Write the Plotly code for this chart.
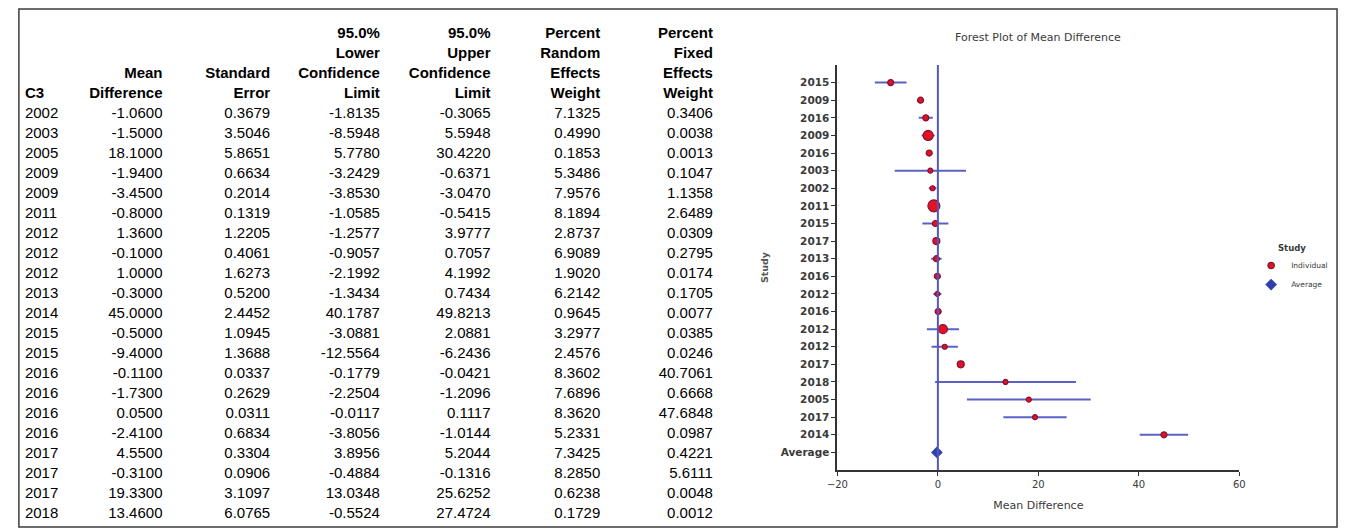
import plotly.graph_objects as go

## Data
study = ['2002', '2003', '2005', '2009', '2009', '2011', '2012', '2012', '2012', '2013', '2014',
         '2015', '2015', '2016', '2016', '2016', '2016', '2017', '2017', '2017', '2018']
mean_diff = [-1.06, -1.5, 18.1, -1.94, -3.45, -0.8, 1.36, -0.1, 1.0, -0.3, 45.0,
             -0.5, -9.4, -0.11, -1.73, 0.05, -2.41, 4.55, -0.31, 19.33, 13.46]
std_err = [0.3679, 3.5046, 5.8651, 0.6634, 0.2014, 0.1319, 1.2205, 0.4061, 1.6273, 0.5200, 2.4452,
           1.0945, 1.3688, 0.0337, 0.2629, 0.0311, 0.6834, 0.3304, 0.0906, 3.1097, 6.0765]
lower_cl = [-1.8135, -8.5948, 5.7780, -3.2429, -3.8530, -1.0585, -1.2577, -0.9057, -2.1992, -1.3434, 40.1787,
            -3.0881, -12.5564, -0.1779, -2.2504, -0.0117, -3.8056, 3.8956, -0.4884, 13.0348, -0.5524]
upper_cl = [-0.3065, 5.5948, 30.4220, -0.6371, -3.0470, -0.5415, 3.9777, 0.7057, 4.1992, 0.7434, 49.8213,
            2.0881, -6.2436, -0.0421, -1.2096, 0.1117, -1.0144, 5.2044, -0.1316, 25.6252, 27.4724]
random_wt = [7.1325, 0.4990, 0.1853, 5.3486, 7.9576, 8.1894, 2.8737, 6.9089, 1.9020, 6.2142, 0.9645,
             3.2977, 2.4576, 8.3602, 7.6896, 8.3620, 5.2331, 7.3425, 8.2850, 0.6238, 0.1729]
fixed_wt = [0.3406, 0.0038, 0.0013, 0.1047, 1.1358, 2.6489, 0.0309, 0.2795, 0.0174, 0.1705, 0.0077,
            0.0385, 0.0246, 40.7061, 0.6668, 47.6848, 0.0987, 0.4221, 5.6111, 0.0048, 0.0012]
average_md = -0.2

headers = ['C3', 'Mean<br>Difference', 'Standard<br>Error', '95.0%<br>Lower<br>Confidence<br>Limit',
           '95.0%<br>Upper<br>Confidence<br>Limit', 'Percent<br>Random<br>Effects<br>Weight',
           'Percent<br>Fixed<br>Effects<br>Weight']

## Styling
W, H = 1346, 531
txt_font = 'Liberation Sans, Arial, sans-serif'
plot_font = 'DejaVu Sans, Verdana, sans-serif'
plot_grey = '#3a3a3a'
ci_blue = 'rgb(92,96,196)'
clear = 'rgba(0,0,0,0)'
col_widths = [56, 98, 108, 110, 111, 110, 113]
aligns = ['left'] + ['right'] * 6
# marker diameters as they appear in the reference, in plotted (sorted) order
marker_px = [6, 6, 6, 10, 6, 5, 5, 12, 6, 7, 6, 6, 5, 6, 9, 5, 7, 5, 5, 5, 6]


def fx(p):
    """reference pixel x -> paper fraction"""
    return p / W


def fy(p):
    """reference pixel y (from top) -> paper fraction"""
    return 1 - p / H


def plain_table(first_row, other_rows, top, bottom, weight):
    tfont = dict(family=txt_font, size=15, color='black', weight=weight)
    return go.Table(
        domain=dict(x=[fx(6), fx(720)], y=[fy(bottom), fy(top)]),
        columnwidth=col_widths,
        header=dict(values=first_row, align=aligns, font=tfont,
                    fill_color=clear, line_color=clear, height=20),
        cells=dict(values=other_rows, align=aligns, font=tfont,
                   fill_color=clear, line_color=clear, height=20),
    )


fig = go.Figure()

## Table: bold header block (bottom-aligned lines), then the data rows, 20px per line
split = [h.split('<br>') for h in headers]
n_lines = max(len(s) for s in split)
head_cols = [[''] * (n_lines - len(s)) + s for s in split]

fmt = lambda vals: ['{:.4f}'.format(v) for v in vals]
body = [study, fmt(mean_diff), fmt(std_err), fmt(lower_cl), fmt(upper_cl), fmt(random_wt), fmt(fixed_wt)]

fig.add_trace(plain_table([c[0] for c in head_cols], [c[1:] for c in head_cols], 19, 106, 'bold'))
fig.add_trace(plain_table([c[0] for c in body], [c[1:] for c in body], 99, 531, 'normal'))

## Forest plot
order = sorted(range(len(mean_diff)), key=lambda i: mean_diff[i])
md_sorted = [mean_diff[i] for i in order]
labels = [study[i] for i in order] + ['Average']
rows = list(range(len(labels)))

fig.add_trace(go.Scatter(
    x=md_sorted, y=rows[:-1], mode='markers', name='Individual',
    marker=dict(color='#e3121e', size=marker_px, opacity=1,
                line=dict(color='rgb(128,18,58)', width=1.2)),
    error_x=dict(type='data', symmetric=False,
                 array=[upper_cl[i] - mean_diff[i] for i in order],
                 arrayminus=[mean_diff[i] - lower_cl[i] for i in order],
                 color=ci_blue, thickness=2, width=0),
    xaxis='x', yaxis='y',
))
fig.add_trace(go.Scatter(
    x=[average_md], y=[rows[-1]], mode='markers', name='Average',
    marker=dict(color='#2f3fae', symbol='diamond', size=9, opacity=1),
    xaxis='x', yaxis='y',
))

fig.add_shape(type='line', x0=0, x1=0, xref='x', y0=0, y1=1, yref='y domain',
              line=dict(color='rgb(84,88,190)', width=2))

# frame round the whole picture
fig.add_shape(type='rect', xref='paper', yref='paper',
              x0=fx(8), x1=fx(1343), y0=fy(527), y1=fy(9),
              line=dict(color='#3c3c3c', width=1.5))

fig.update_layout(
    width=W, height=H,
    margin=dict(l=0, r=0, t=0, b=0),
    paper_bgcolor='white', plot_bgcolor='white',
    font=dict(family=plot_font, color=plot_grey),
    xaxis=dict(domain=[fx(837), fx(1244)], range=[-20, 60], tickvals=[-20, 0, 20, 40, 60],
               showline=True, linecolor='#333', linewidth=2, ticks='outside', ticklen=4,
               tickcolor='#333', showgrid=False, zeroline=False,
               tickfont=dict(size=10, color=plot_grey),
               title=dict(text='Mean Difference', font=dict(size=11, color=plot_grey), standoff=12)),
    yaxis=dict(domain=[fy(470), fy(65)], range=[22, -1], tickvals=rows,
               ticktext=['<b>' + t + '</b>' for t in labels],
               showline=True, linecolor='#333', linewidth=2, ticks='outside', ticklen=4,
               tickcolor='#333', showgrid=False, zeroline=False,
               tickfont=dict(size=10.5, color=plot_grey),
               title=dict(text='<b>Study</b>', font=dict(size=9.5, color='#555'), standoff=10)),
    legend=dict(title=dict(text='<b>Study</b>', font=dict(size=8.5, color=plot_grey), side='top center'),
                x=fx(1256), y=fy(240), xanchor='left', yanchor='top',
                font=dict(size=7.5, color=plot_grey), itemsizing='trace',
                bgcolor=clear, tracegroupgap=0),
    annotations=[dict(text='Forest Plot of Mean Difference', x=fx(1040), y=fy(37),
                      xref='paper', yref='paper', showarrow=False,
                      xanchor='center', yanchor='middle',
                      font=dict(size=11, color=plot_grey))],
)

# drop the browser's default 8px body margin so the figure fills the window exactly
fig.write_html('out.html', config={'displayModeBar': False},
               post_script="document.body.style.margin='0';")
